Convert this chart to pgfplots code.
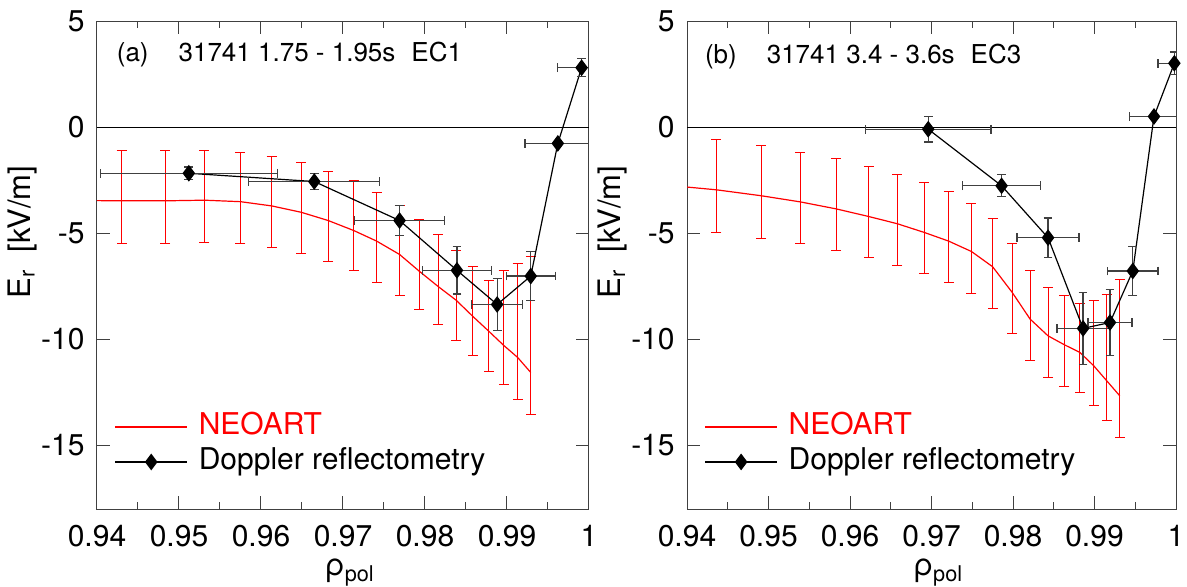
\documentclass[border=0pt]{standalone}
\usepackage{fontspec}
\setmainfont{TeX Gyre Heros}
\usepackage{pgfplots}
\pgfplotsset{compat=1.18}
\usepackage{pgfplotstable}

% ---- panel (a) ----
\pgfplotstableread{
x y top bot
0.9400 -3.45 -3.45 -3.45
0.9430 -3.46 -1.10 -5.47
0.9483 -3.46 -1.10 -5.45
0.9531 -3.43 -1.08 -5.42
0.9575 -3.50 -1.18 -5.49
0.9613 -3.70 -1.36 -5.66
0.9649 -4.00 -1.66 -5.96
0.9682 -4.39 -2.07 -6.33
0.9713 -4.86 -2.52 -6.76
0.9741 -5.36 -3.07 -7.32
0.9769 -5.99 -3.67 -7.92
0.9793 -6.78 -4.34 -8.57
0.9816 -7.50 -5.06 -9.31
0.9838 -8.15 -5.80 -10.05
0.9858 -8.90 -6.54 -10.77
0.9878 -9.62 -7.24 -11.49
0.9896 -10.28 -6.74 -12.12
0.9913 -10.85 -6.44 -12.81
0.9929 -11.56 -6.08 -13.56
}\neoA
\pgfplotstableread{
x y ex ey
0.9512 -2.16 0.0108 0.30
0.9665 -2.55 0.0080 0.37
0.9769 -4.39 0.0055 0.72
0.9839 -6.74 0.0042 1.12
0.9888 -8.35 0.0031 1.23
0.9929 -7.01 0.0030 1.17
0.9962 -0.75 0.0040 0.00
0.9991 2.82 0.0029 0.42
}\dopA
% ---- panel (b) ----
\pgfplotstableread{
x y top bot
0.9400 -2.81 -2.81 -2.81
0.9436 -2.94 -0.55 -4.94
0.9491 -3.22 -0.85 -5.22
0.9539 -3.51 -1.16 -5.49
0.9583 -3.84 -1.48 -5.79
0.9623 -4.20 -1.84 -6.13
0.9658 -4.54 -2.23 -6.49
0.9691 -4.95 -2.61 -6.89
0.9721 -5.36 -3.03 -7.30
0.9749 -5.85 -3.57 -7.81
0.9775 -6.57 -4.28 -8.52
0.9799 -7.78 -5.47 -9.73
0.9821 -9.04 -6.73 -10.99
0.9843 -9.83 -7.55 -11.78
0.9863 -10.25 -7.94 -12.20
0.9882 -10.61 -8.32 -12.50
0.9899 -11.24 -8.18 -13.13
0.9915 -11.95 -7.89 -13.81
0.9931 -12.66 -7.19 -14.61
}\neoB
\pgfplotstableread{
x y ex ey
0.9696 -0.08 0.0077 0.60
0.9786 -2.75 0.0048 0.52
0.9843 -5.20 0.0038 0.93
0.9886 -9.48 0.0032 1.71
0.9919 -9.20 0.0027 1.57
0.9947 -6.77 0.0031 1.16
0.9973 0.52 0.0030 0.00
0.9998 3.03 0.0020 0.53
}\dopB

\pgfplotsset{
  panel/.style={
    scale only axis, height=243.75pt,
    xmin=0.94, xmax=1, ymin=-18, ymax=5,
    xtick={0.94,0.95,0.96,0.97,0.98,0.99,1},
    xticklabels={0.94,0.95,0.96,0.97,0.98,0.99,1},
    minor xtick={0.945,0.955,0.965,0.975,0.985,0.995},
    ytick={-15,-10,-5,0,5},
    yticklabels={-15,-10,-5,0,5},
    tick align=inside, major tick length=6.3pt, minor tick length=3.3pt,
    every tick/.style={black!75, line width=0.5pt},
    axis line style={black!75, line width=0.5pt},
    tick label style={font=\fontsize{15}{18}\selectfont},
    xticklabel style={inner sep=0pt, anchor=north, yshift=-8pt},
    yticklabel style={inner sep=0pt, anchor=east, xshift=-6pt},
    every axis x label/.style={at={(axis description cs:0.514,-0.131)}, anchor=center,
      font=\fontsize{15.5}{18}\selectfont},
    every axis y label/.style={at={(axis description cs:-0.152,0.568)}, anchor=center, rotate=90,
      font=\fontsize{15.5}{18}\selectfont},
    xlabel={ρ\textsubscript{pol}},
    ylabel={E\textsubscript{r}\ \ [kV/m]},
    legend cell align=left,
    legend style={draw=none, fill=none, inner sep=0pt, row sep=0pt, column sep=4pt,
      at={(axis description cs:0.035,0.205)}, anchor=north west,
      font=\fontsize{15}{18}\selectfont,
      nodes={inner sep=1.5pt, text height=11pt, text depth=3.5pt}},
    legend image code/.code={\draw[mark repeat=2,mark phase=2,##1] plot coordinates {(0pt,0pt) (18pt,0pt) (36pt,0pt)};},
  },
  neobars/.style={forget plot, draw=none, mark=none,
    error bars/.cd, y dir=both, y explicit,
    error bar style={draw=red, line width=0.5pt},
    error mark options={rotate=90, draw=red, mark size=2.5pt, line width=0.5pt}},
  dopstyle/.style={black, line width=0.6pt, mark=diamond*, mark size=3.7pt,
    mark options={solid, fill=black},
    error bars/.cd, x dir=both, x explicit, y dir=both, y explicit,
    error bar style={black!75, line width=0.6pt},
    error mark options={rotate=90, black!75, mark size=2.2pt, line width=0.6pt}},
}

\begin{document}
\begin{tikzpicture}
\path[use as bounding box] (0,0) rectangle (593.5pt,293pt);

\begin{axis}[panel, width=246pt, at={(48.5pt,38.5pt)}, anchor=south west]
\addplot[forget plot, black, line width=0.5pt] coordinates {(0.94,0) (1,0)};
\addplot[neobars] table[x=x, y=y, skip coords between index={0}{1},
  y error plus expr=\thisrow{top}-\thisrow{y},
  y error minus expr=\thisrow{y}-\thisrow{bot}] {\neoA};
\addplot[red, line width=0.6pt, mark=none] table[x=x, y=y] {\neoA};
\addlegendentry{\textcolor{red}{NEOART}}
\addplot[dopstyle] table[x=x, y=y, x error=ex, y error=ey] {\dopA};
\addlegendentry{Doppler reflectometry}
\node[anchor=base west, font=\fontsize{13}{15}\selectfont] at (axis description cs:0.026,0.917)
  {(a)\hspace{15pt}31741 1.75 - 1.95s\hspace{8pt}EC1};
\end{axis}

\begin{axis}[panel, width=244.5pt, at={(343.5pt,38.5pt)}, anchor=south west]
\addplot[forget plot, black, line width=0.5pt] coordinates {(0.94,0) (1,0)};
\addplot[neobars] table[x=x, y=y, skip coords between index={0}{1},
  y error plus expr=\thisrow{top}-\thisrow{y},
  y error minus expr=\thisrow{y}-\thisrow{bot}] {\neoB};
\addplot[red, line width=0.6pt, mark=none] table[x=x, y=y] {\neoB};
\addlegendentry{\textcolor{red}{NEOART}}
\addplot[dopstyle] table[x=x, y=y, x error=ex, y error=ey] {\dopB};
\addlegendentry{Doppler reflectometry}
\node[anchor=base west, font=\fontsize{13}{15}\selectfont] at (axis description cs:0.0225,0.913)
  {(b)\hspace{15pt}31741 3.4 - 3.6s\hspace{8pt}EC3};
\end{axis}
\end{tikzpicture}
\end{document}
